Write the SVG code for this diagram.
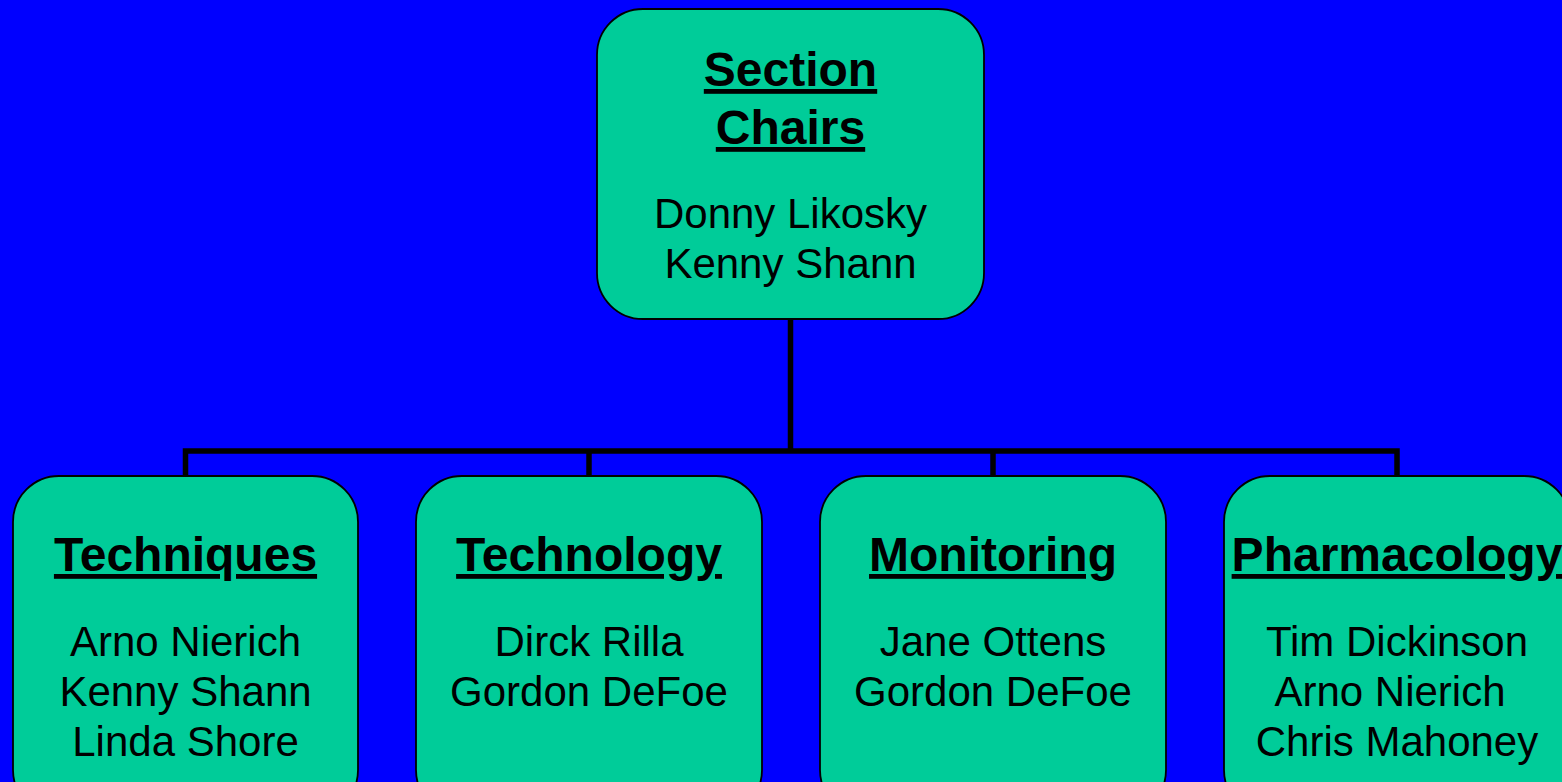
<svg xmlns="http://www.w3.org/2000/svg" width="1562" height="782" viewBox="0 0 1562 782">
<style>
.box{fill:#00CC99;stroke:#000;stroke-width:1.8}
.t{font-family:"Liberation Sans",Arial,sans-serif;font-size:48px;font-weight:bold;text-anchor:middle;text-decoration:underline;fill:#000}
.n{font-family:"Liberation Sans",Arial,sans-serif;font-size:42px;text-anchor:middle;fill:#000}
.c{fill:none;stroke:#000;stroke-width:5.5;stroke-linejoin:miter}
</style>
<rect width="1562" height="782" fill="#0000FF"/>
<g id="connectors">
<path class="c" d="M790.5 319 V451"/>
<path class="c" d="M185.5 476 V451 H1397 V476"/>
<path class="c" d="M589 451 V476"/>
<path class="c" d="M993 451 V476"/>
</g>
<g id="section-chairs">
<rect class="box" x="597" y="9" width="387" height="310" rx="46" ry="46"/>
<text class="t" x="790.5" y="86">Section</text>
<text class="t" x="790.5" y="144">Chairs</text>
<text class="n" x="790.5" y="228">Donny Likosky</text>
<text class="n" x="790.5" y="278">Kenny Shann</text>
</g>
<g id="techniques">
<rect class="box" x="13" y="476" width="345" height="340" rx="46" ry="46"/>
<text class="t" x="185.5" y="571">Techniques</text>
<text class="n" x="185.5" y="656">Arno Nierich</text>
<text class="n" x="185.5" y="706">Kenny Shann</text>
<text class="n" x="185.5" y="756">Linda Shore</text>
</g>
<g id="technology">
<rect class="box" x="416" y="476" width="346" height="340" rx="46" ry="46"/>
<text class="t" x="589" y="571">Technology</text>
<text class="n" x="589" y="656">Dirck Rilla</text>
<text class="n" x="589" y="706">Gordon DeFoe</text>
</g>
<g id="monitoring">
<rect class="box" x="820" y="476" width="346" height="340" rx="46" ry="46"/>
<text class="t" x="993" y="571">Monitoring</text>
<text class="n" x="993" y="656">Jane Ottens</text>
<text class="n" x="993" y="706">Gordon DeFoe</text>
</g>
<g id="pharmacology">
<rect class="box" x="1224" y="476" width="346" height="340" rx="46" ry="46"/>
<text class="t" x="1397" y="571">Pharmacology</text>
<text class="n" x="1397" y="656">Tim Dickinson</text>
<text class="n" x="1390" y="706">Arno Nierich</text>
<text class="n" x="1397" y="756">Chris Mahoney</text>
</g>
</svg>
